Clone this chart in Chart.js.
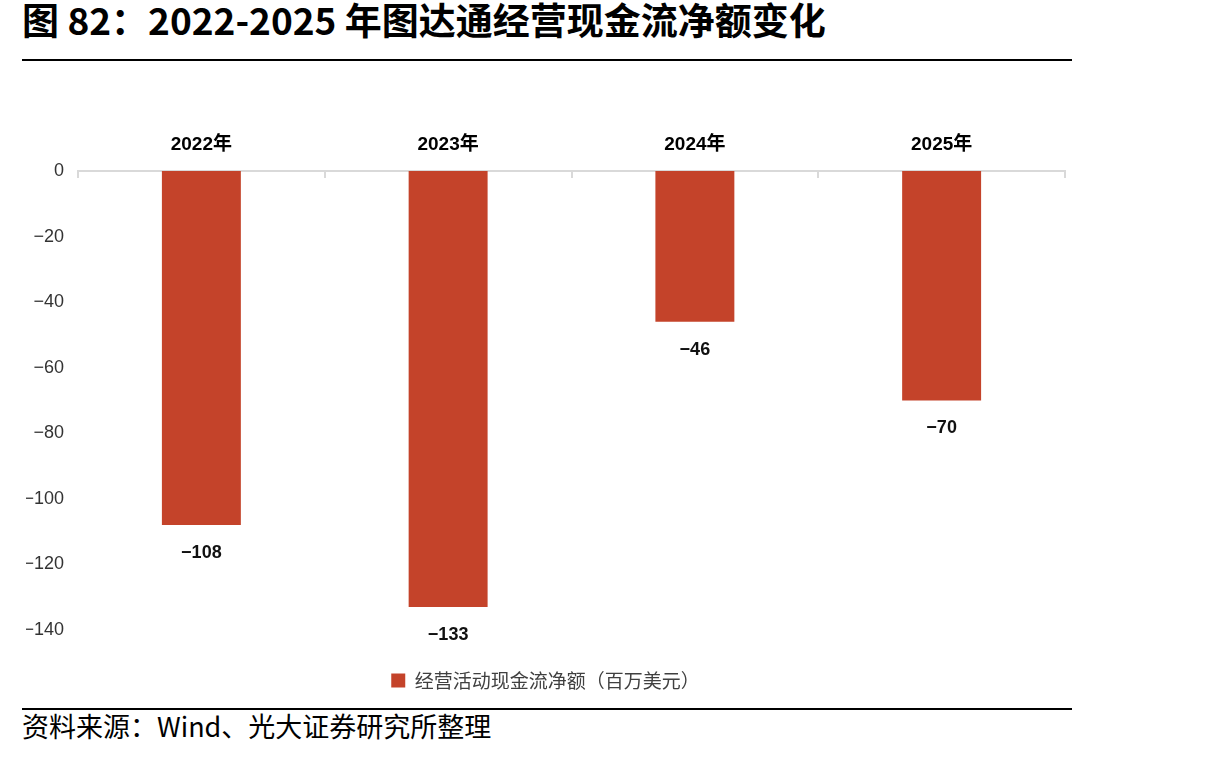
<!DOCTYPE html>
<html>
<head>
<meta charset="utf-8">
<script src="https://cdn.jsdelivr.net/npm/chart.js@4.4.0/dist/chart.umd.min.js"></script>
<style>
    body { margin: 0; width: 1205px; height: 757px; background: #fff; position: relative; overflow: hidden; font-family: "Noto Sans CJK SC", sans-serif; }
    #title { position: absolute; left: 22px; top: -3px; font-size: 37px; line-height: 44px; font-weight: bold; color: #000; white-space: nowrap; }
    .rule { position: absolute; left: 22px; width: 1050px; height: 2px; background: #000; }
    #source { position: absolute; left: 22px; top: 710px; font-size: 27px; line-height: 32px; color: #000; white-space: nowrap; }
    #wrap { position: absolute; left: 0; top: 80px; width: 1205px; height: 620px; }
</style>
</head>
<body>
<div id="title">图 82：2022-2025 年图达通经营现金流净额变化</div>
<div class="rule" style="top:59px"></div>
<div id="wrap"><canvas id="cashChart"></canvas></div>
<div class="rule" style="top:708px"></div>
<div id="source">资料来源：Wind、光大证券研究所整理</div>

<script>
const categories = ['2022年', '2023年', '2024年', '2025年'];
const cashFlow = [-108, -133, -46, -70];
const yTicks = [0, -20, -40, -60, -80, -100, -120, -140];
const seriesName = '经营活动现金流净额（百万美元）';

// el signo menos largo como en el original
const fmt = v => String(v).replace('-', '\u2212');

const latinFont = '"Liberation Sans", "Noto Sans CJK SC", sans-serif';

// etiquetas de valor debajo de cada barra
const valueLabels = {
    id: 'valueLabels',
    afterDatasetsDraw(chart) {
        const ctx = chart.ctx;
        const meta = chart.getDatasetMeta(0);
        ctx.save();
        ctx.font = 'bold 18px ' + latinFont;
        ctx.fillStyle = '#111';
        ctx.textAlign = 'center';
        ctx.textBaseline = 'middle';
        meta.data.forEach((bar, i) => {
            ctx.fillText(fmt(cashFlow[i]), bar.x, bar.y + 28);
        });
        ctx.restore();
    }
};

// pequeñas marcas hacia abajo en los límites de categoría
const boundaryTicks = {
    id: 'boundaryTicks',
    afterDraw(chart) {
        const ctx = chart.ctx;
        const area = chart.chartArea;
        const w = (area.right - area.left) / categories.length;
        ctx.save();
        ctx.strokeStyle = '#d9d9d9';
        ctx.lineWidth = 2;
        for (let i = 0; i <= categories.length; i++) {
            const x = Math.round(area.left + i * w);
            ctx.beginPath();
            ctx.moveTo(x, area.top);
            ctx.lineTo(x, area.top + 7);
            ctx.stroke();
        }
        ctx.restore();
    }
};

const ctx = document.getElementById('cashChart').getContext('2d');
const cashChart = new Chart(ctx, {
    type: 'bar',
    data: {
        labels: categories,
        datasets: [{
            label: seriesName,
            data: cashFlow,
            backgroundColor: '#C4432A',
            borderWidth: 0,
            categoryPercentage: 1,
            barPercentage: 0.32
        }]
    },
    options: {
        responsive: true,
        maintainAspectRatio: false,
        animation: false,
        layout: { padding: { top: 0, right: 140, bottom: 0, left: 26 } },
        scales: {
            x: {
                position: 'top',
                grid: { display: false, drawTicks: false },
                border: { display: true, color: '#d9d9d9', width: 2 },
                ticks: {
                    padding: 15,
                    color: '#000',
                    font: { family: latinFont, size: 19, weight: 'bold' }
                },
                afterFit: s => { s.height = 91; }
            },
            y: {
                min: -140,
                max: 0,
                grid: { display: false, drawTicks: false },
                border: { display: false },
                afterBuildTicks: s => { s.ticks = yTicks.map(v => ({ value: v })); },
                ticks: {
                    padding: 14,
                    color: '#333',
                    font: { family: latinFont, size: 18 },
                    callback: v => fmt(v)
                },
                afterFit: s => { s.width = 52; }
            }
        },
        plugins: {
            legend: {
                position: 'bottom',
                labels: {
                    boxWidth: 14,
                    boxHeight: 14,
                    padding: 41,
                    color: '#404040',
                    font: { family: '"Noto Sans CJK SC", sans-serif', size: 19 }
                }
            },
            tooltip: { enabled: false }
        }
    },
    plugins: [valueLabels, boundaryTicks]
});
</script>
</body>
</html>
